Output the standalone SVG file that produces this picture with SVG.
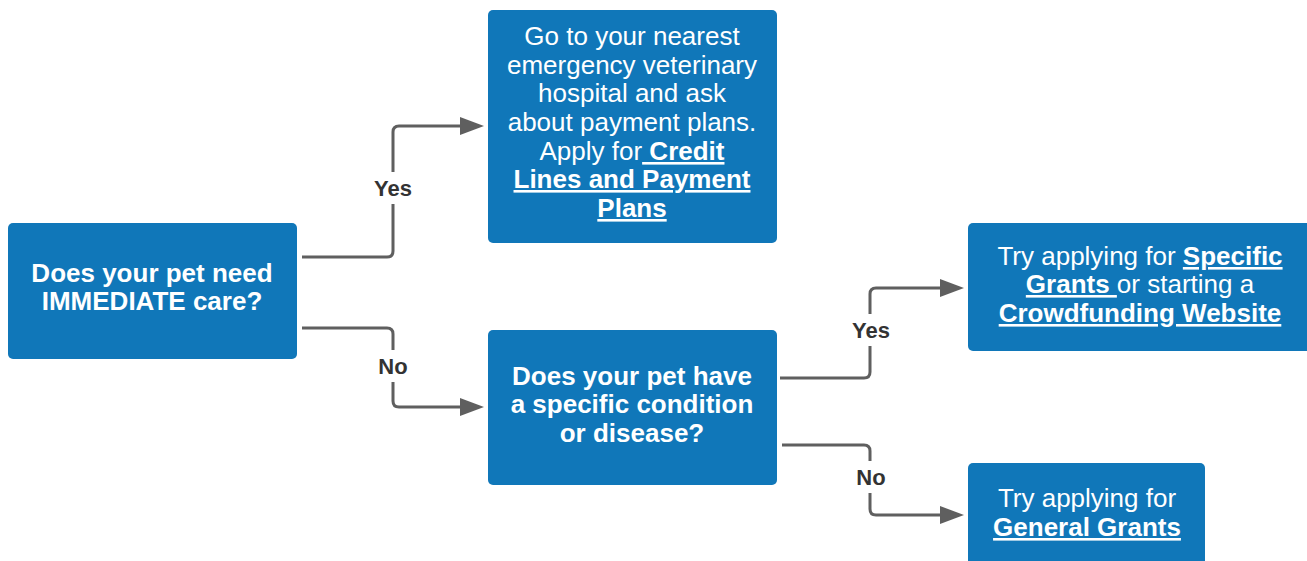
<svg xmlns="http://www.w3.org/2000/svg" width="1307" height="561" viewBox="0 0 1307 561">
<style>
.box{fill:#1077b9;}
.t{font-family:"Liberation Sans",Arial,sans-serif;fill:#ffffff;text-anchor:middle;font-size:26px;}
.b{font-weight:bold;}
.u{text-decoration:underline;font-weight:bold;}
.c{fill:none;stroke:#5f5f5f;stroke-width:3;}
.lbl{font-family:"Liberation Sans",Arial,sans-serif;fill:#333333;font-weight:bold;font-size:22px;text-anchor:middle;}
.bg{fill:#ffffff;}
</style>
<rect width="1307" height="561" fill="#ffffff"/>
<g id="connectors">
<path class="c" d="M302,257 H387 Q393,257 393,251 V132 Q393,126 399,126 H462"/>
<polygon points="460,117 484,126 460,135" fill="#5f5f5f"/>
<path class="c" d="M302,328 H387 Q393,328 393,334 V401 Q393,407 399,407 H462"/>
<polygon points="460,398 484,407 460,416" fill="#5f5f5f"/>
<path class="c" d="M780,378 H864 Q870,378 870,372 V294 Q870,288 876,288 H942"/>
<polygon points="940,279 964,288 940,297" fill="#5f5f5f"/>
<path class="c" d="M782,445 H864 Q870,445 870,451 V509 Q870,515 876,515 H942"/>
<polygon points="940,506 964,515 940,524" fill="#5f5f5f"/>
<rect class="bg" x="371" y="172" width="44" height="32"/>
<text class="lbl" x="393" y="196">Yes</text>
<rect class="bg" x="374" y="350" width="38" height="32"/>
<text class="lbl" x="393" y="374">No</text>
<rect class="bg" x="849" y="314" width="44" height="32"/>
<text class="lbl" x="871" y="338">Yes</text>
<rect class="bg" x="852" y="461" width="38" height="32"/>
<text class="lbl" x="871" y="485">No</text>
</g>
<g id="n1">
<rect class="box" x="8" y="223" width="289" height="136" rx="5"/>
<text class="t b" x="152" y="282">Does your pet need</text>
<text class="t b" x="152" y="310">IMMEDIATE care?</text>
</g>
<g id="n2">
<rect class="box" x="488" y="10" width="289" height="233" rx="5"/>
<text class="t" x="632" y="45">Go to your nearest</text>
<text class="t" x="632" y="74">emergency veterinary</text>
<text class="t" x="632" y="102">hospital and ask</text>
<text class="t" x="632" y="131">about payment plans.</text>
<text class="t" x="632" y="160">Apply for<tspan class="u"> Credit</tspan></text>
<text class="t" x="632" y="188"><tspan class="u">Lines and Payment</tspan></text>
<text class="t" x="632" y="217"><tspan class="u">Plans</tspan></text>
</g>
<g id="n3">
<rect class="box" x="488" y="330" width="289" height="155" rx="5"/>
<text class="t b" x="632" y="385">Does your pet have</text>
<text class="t b" x="632" y="413">a specific condition</text>
<text class="t b" x="632" y="442">or disease?</text>
</g>
<g id="n4">
<rect class="box" x="968" y="223" width="350" height="128" rx="5"/>
<text class="t" x="1140" y="265">Try applying for <tspan class="u">Specific</tspan></text>
<text class="t" x="1140" y="293"><tspan class="u">Grants </tspan>or starting a</text>
<text class="t" x="1140" y="322"><tspan class="u">Crowdfunding Website</tspan></text>
</g>
<g id="n5">
<rect class="box" x="968" y="463" width="237" height="110" rx="5"/>
<text class="t" x="1087" y="507">Try applying for</text>
<text class="t" x="1087" y="536"><tspan class="u">General Grants</tspan></text>
</g>
</svg>
